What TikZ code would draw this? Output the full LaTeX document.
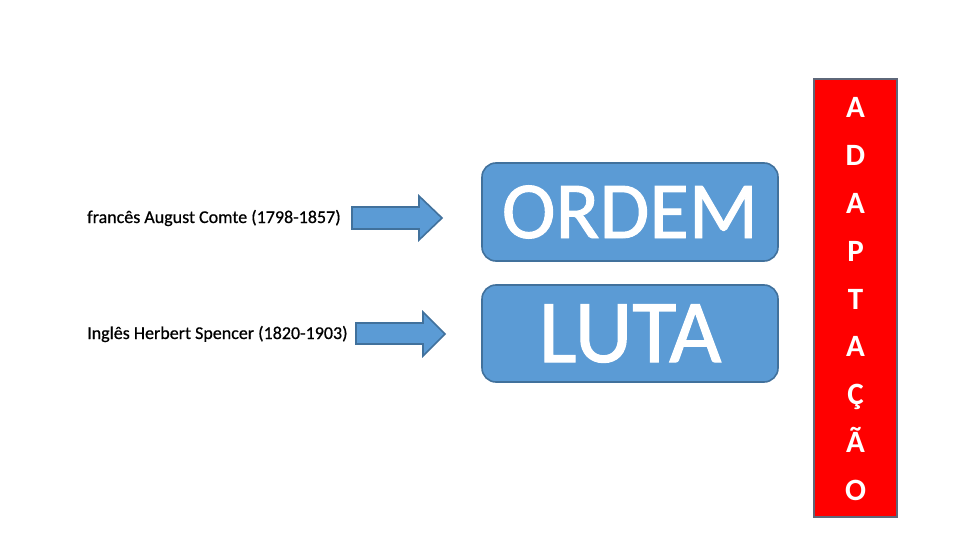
\documentclass[tikz,border=0pt]{standalone}
\usepackage{fontspec}
\setmainfont{Carlito}
\newfontfamily\heavyfont{Carlito}[FakeBold=1.2]
\newfontfamily\labelfont{Carlito}[FakeBold=0.6]
\definecolor{arrowfill}{HTML}{5B9BD5}
\definecolor{arrowline}{HTML}{41719C}
\definecolor{redfill}{HTML}{FF0000}
\definecolor{redline}{HTML}{5E6779}
\begin{document}
\begin{tikzpicture}[x=1pt,y=-1pt,
  lbl/.style={anchor=base west,inner sep=0pt,font=\labelfont\fontsize{18}{20}\selectfont,text=black},
  bluebox/.style={draw=arrowline,fill=arrowfill,line width=1.6pt,rounded corners=14pt,
    minimum width=296pt,inner sep=0pt,text=white},
  blockarrow/.style={draw=arrowline,fill=arrowfill,line width=1.6pt,line join=miter},
  letter/.style={anchor=base,inner sep=0pt,text=white,font=\fontsize{31}{36}\selectfont\bfseries}]
\useasboundingbox (0,0) rectangle (960,540);
\fill[white] (0,0) rectangle (960,540);
% labels
\node[lbl] (comte) at (87,223) {francês August Comte (1798-1857)};
\node[lbl] (spencer) at (87,339) {Inglês Herbert Spencer (1820-1903)};
% arrows
\draw[blockarrow] (352,207) -- (419,207) -- (419,196) -- (442,218) -- (419,240) -- (419,229) -- (352,229) -- cycle;
\draw[blockarrow] (356,323) -- (423,323) -- (423,312) -- (445,334) -- (423,356) -- (423,344) -- (356,344) -- cycle;
% boxes
\node[bluebox,minimum height=98pt,font=\heavyfont\fontsize{81}{92}\selectfont] (ordem) at (630,212) {ORDEM};
\node[bluebox,minimum height=97pt,font=\heavyfont\fontsize{90}{104}\selectfont] (luta) at (630,333.5) {LUTA};
% red column
\node[draw=redline,fill=redfill,line width=1.6pt,minimum width=83pt,minimum height=438pt,inner sep=0pt] (col) at (855.5,298) {};
\foreach \ch [count=\i from 0] in {A,D,A,P,T,A,Ç,Ã,O}{
  \node[letter] (l\i) at (855.5,{118+47.75*\i}) {\ch};
}
\end{tikzpicture}
\end{document}
